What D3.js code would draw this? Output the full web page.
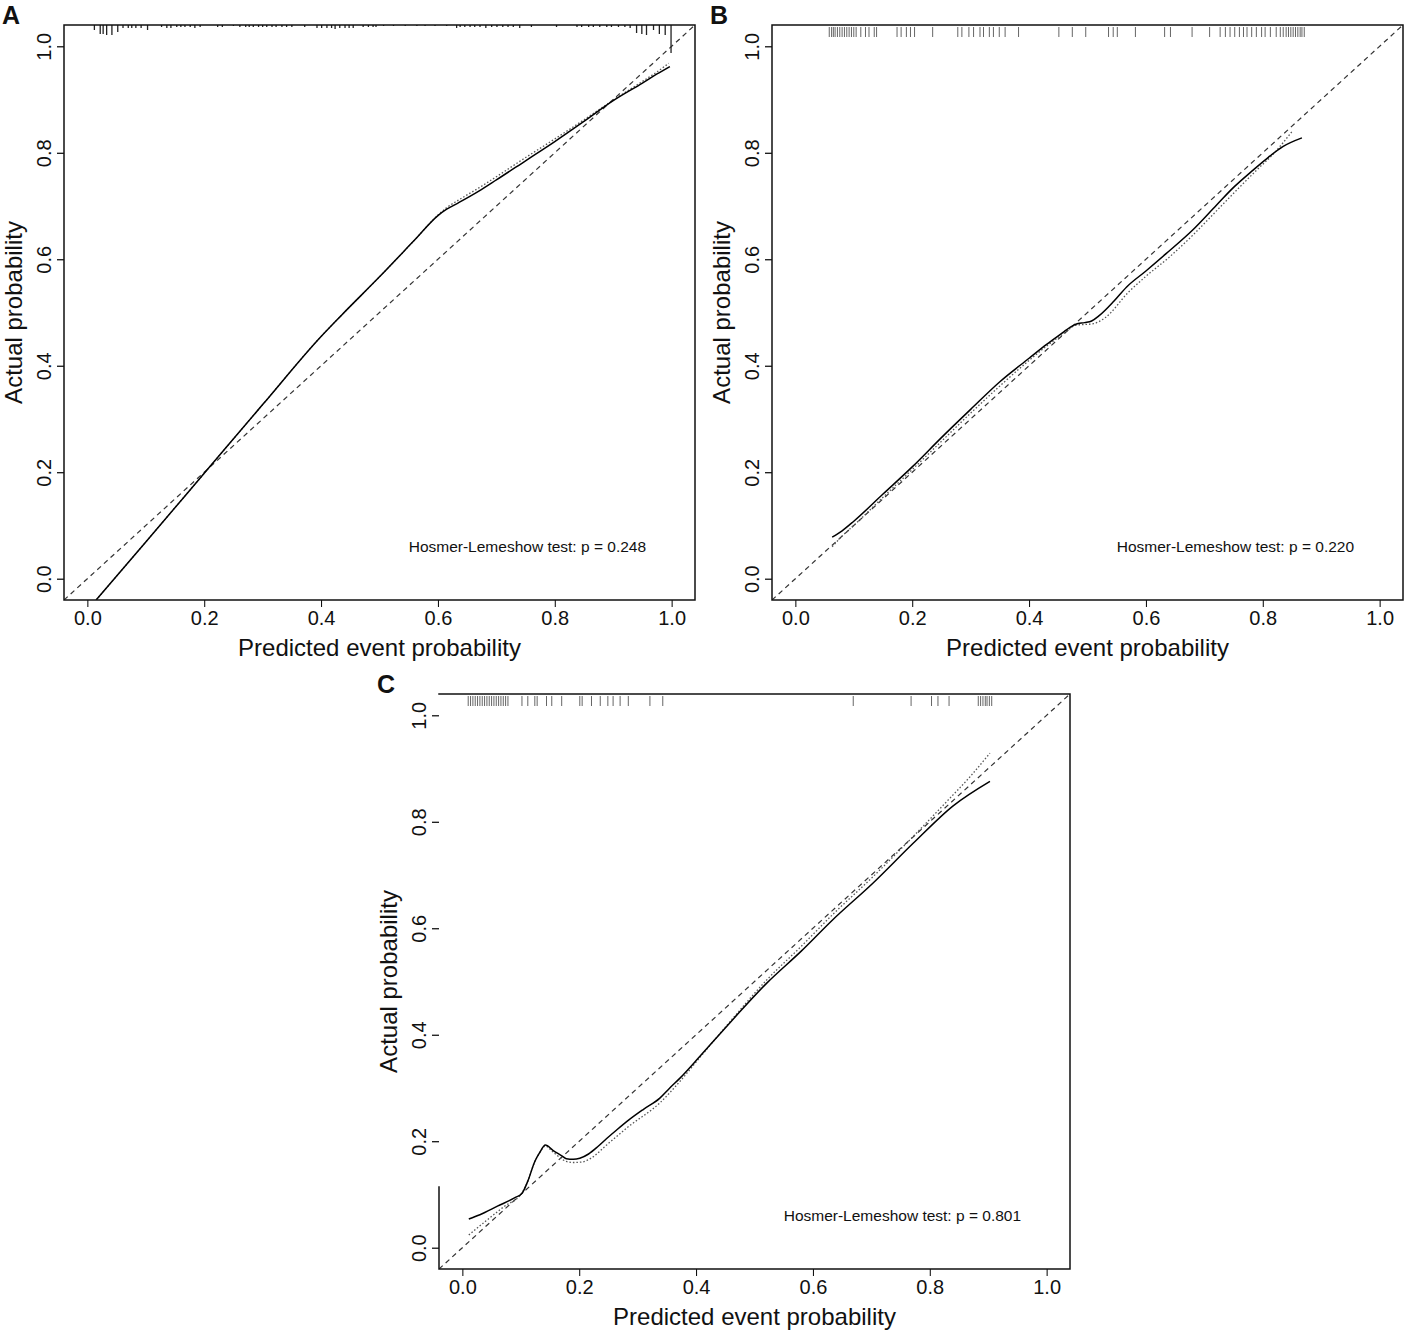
<!DOCTYPE html>
<html>
<head>
<meta charset="utf-8">
<script src="https://cdn.jsdelivr.net/npm/d3@7"></script>
<style>
  body { margin: 0; background: #fff; }
  svg text { font-family: "Liberation Sans", Arial, Helvetica, sans-serif; fill: #111; }
</style>
</head>
<body>
<svg id="chart" width="1405" height="1332"></svg>
<script>
// ---- data ----
const ticks = [0, 0.2, 0.4, 0.6, 0.8, 1.0];
const pValues = ['0.248', '0.220', '0.801'];

// panel A: solid (bias corrected) and dotted (apparent) calibration curves
const aSolid = [[0.015,-0.04],[0.10,0.069],[0.20,0.198],[0.30,0.327],[0.40,0.455],[0.435,0.495],
  [0.50,0.567],[0.56,0.636],[0.60,0.682],[0.615,0.694],[0.635,0.706],[0.67,0.728],[0.70,0.749],
  [0.75,0.785],[0.80,0.821],[0.85,0.859],[0.90,0.898],[0.95,0.931],[0.975,0.948],[0.997,0.962]];
const aDotted = [[0.015,-0.04],[0.10,0.069],[0.20,0.198],[0.30,0.327],[0.40,0.455],[0.435,0.495],
  [0.50,0.567],[0.56,0.636],[0.60,0.683],[0.615,0.697],[0.635,0.711],[0.67,0.734],[0.70,0.755],
  [0.75,0.791],[0.80,0.826],[0.85,0.862],[0.90,0.899],[0.95,0.934],[0.975,0.952],[0.995,0.968]];
// spike histogram along the top of panel A
const aSpikeX = [0.012,0.022,0.027,0.033,0.042,0.052,0.061,0.070,0.076,0.083,0.092,0.103,0.127,0.136,
  0.143,0.153,0.160,0.167,0.176,0.184,0.193,0.223,0.231,0.250,0.261,0.271,0.277,0.284,0.293,0.300,
  0.307,0.316,0.323,0.333,0.341,0.350,0.372,0.393,0.401,0.410,0.418,0.424,0.432,0.441,0.448,0.455,
  0.472,0.481,0.489,0.494,0.507,0.524,0.544,0.564,0.578,0.595,0.615,0.632,0.638,0.646,0.655,0.663,
  0.672,0.682,0.692,0.701,0.711,0.720,0.729,0.740,0.760,0.803,0.838,0.846,0.858,0.866,0.877,0.889,
  0.897,0.909,0.920,0.929,0.940,0.949,0.957,0.969,0.979,0.989,0.999];
const aSpikeN = [5,9,9,10,10,7,3,3,3,3,3,5,2,3,3,2,2,2,2,3,2,2,2,1,2,2,2,2,2,2,
  2,2,2,2,2,2,2,3,3,3,3,4,3,3,3,3,2,2,2,2,1,1,1,1,1,1,1,3,2,2,2,2,
  2,3,2,2,2,2,2,3,2,2,2,2,2,2,2,2,2,2,2,3,8,9,10,5,9,10,28];

// panel B
const bSolid = [[0.063,0.078],[0.08,0.090],[0.10,0.108],[0.15,0.159],[0.20,0.210],[0.25,0.265],
  [0.30,0.318],[0.35,0.370],[0.40,0.414],[0.43,0.440],[0.46,0.464],[0.47,0.472],[0.48,0.478],
  [0.495,0.481],[0.507,0.484],[0.52,0.494],[0.545,0.521],[0.567,0.548],[0.60,0.578],[0.635,0.611],
  [0.68,0.655],[0.721,0.702],[0.75,0.735],[0.784,0.768],[0.81,0.792],[0.835,0.812],[0.867,0.828]];
const bDotted = [[0.063,0.060],[0.08,0.080],[0.10,0.100],[0.15,0.153],[0.20,0.205],[0.25,0.258],
  [0.30,0.311],[0.35,0.362],[0.40,0.410],[0.43,0.437],[0.46,0.461],[0.48,0.476],[0.51,0.479],
  [0.53,0.490],[0.57,0.538],[0.60,0.568],[0.64,0.604],[0.68,0.645],[0.72,0.690],[0.76,0.735],
  [0.79,0.768],[0.82,0.800],[0.85,0.840]];
const bRug = [0.058,0.062,0.065,0.068,0.072,0.076,0.080,0.084,0.088,0.092,0.096,0.100,0.104,0.112,
  0.120,0.126,0.135,0.139,0.174,0.181,0.190,0.197,0.204,0.235,0.278,0.285,0.297,0.305,0.316,0.322,
  0.332,0.339,0.349,0.359,0.382,0.451,0.474,0.497,0.536,0.544,0.551,0.582,0.632,0.642,0.679,0.709,
  0.727,0.736,0.744,0.752,0.760,0.767,0.773,0.781,0.789,0.798,0.804,0.813,0.823,0.830,0.835,0.840,
  0.844,0.848,0.852,0.856,0.860,0.864,0.867,0.871];

// panel C
const cSolid = [[0.011,0.054],[0.03,0.062],[0.06,0.078],[0.09,0.094],[0.102,0.102],[0.112,0.125],
  [0.124,0.162],[0.132,0.178],[0.142,0.193],[0.155,0.183],[0.171,0.172],[0.178,0.167],[0.19,0.166],
  [0.201,0.168],[0.216,0.176],[0.232,0.190],[0.247,0.205],[0.265,0.222],[0.285,0.240],[0.31,0.260],
  [0.338,0.281],[0.355,0.300],[0.372,0.318],[0.407,0.360],[0.46,0.425],[0.521,0.497],[0.58,0.557],
  [0.634,0.616],[0.703,0.685],[0.772,0.760],[0.84,0.830],[0.903,0.876]];
const cDotted = [[0.011,0.024],[0.04,0.050],[0.071,0.077],[0.102,0.103],[0.112,0.125],[0.124,0.162],
  [0.132,0.178],[0.142,0.191],[0.155,0.180],[0.171,0.166],[0.178,0.162],[0.19,0.160],[0.205,0.161],
  [0.22,0.168],[0.247,0.193],[0.285,0.228],[0.338,0.272],[0.372,0.312],[0.407,0.358],[0.46,0.427],
  [0.521,0.503],[0.58,0.566],[0.634,0.626],[0.703,0.697],[0.772,0.773],[0.829,0.838],[0.87,0.886],
  [0.903,0.929]];
const cRug = [0.010,0.014,0.018,0.022,0.026,0.030,0.034,0.038,0.042,0.046,0.050,0.054,0.058,0.062,
  0.066,0.070,0.074,0.078,0.102,0.112,0.124,0.128,0.144,0.153,0.170,0.201,0.205,0.221,0.236,0.249,
  0.258,0.270,0.284,0.321,0.343,0.669,0.768,0.803,0.814,0.833,0.883,0.887,0.891,0.895,0.898,0.902,
  0.906];

// ---- layout ----
const W = 631, H = 575;
const panels = [
  { key: 'A', left: 64,  top: 25,  solid: aSolid, dotted: aDotted, spikes: aSpikeX, counts: aSpikeN, p: pValues[0], leftFrom: 1.04 },
  { key: 'B', left: 772, top: 25,  solid: bSolid, dotted: bDotted, rug: bRug, p: pValues[1], leftFrom: 1.04 },
  // the left edge of panel C is only visible near the bottom in the source image
  { key: 'C', left: 439, top: 694, solid: cSolid, dotted: cDotted, rug: cRug, p: pValues[2], leftFrom: 0.114 }
];

const svg = d3.select('#chart');
const x = d3.scaleLinear().domain([-0.04, 1.04]).range([0, W]);
const y = d3.scaleLinear().domain([-0.04, 1.04]).range([H, 0]);
const line = d3.line().x(d => x(d[0])).y(d => y(d[1])).curve(d3.curveMonotoneX);
const fmt = d3.format('.1f');

panels.forEach((p, i) => {
  const g = svg.append('g').attr('transform', `translate(${p.left},${p.top})`);

  g.append('clipPath').attr('id', 'clip' + i)
    .append('rect').attr('width', W).attr('height', H);

  // panel letter
  svg.append('text')
    .attr('x', p.left - 62).attr('y', p.top - 1)
    .style('font-size', '25px').style('font-weight', 'bold')
    .text(p.key);

  // axes
  g.append('g').attr('transform', `translate(0,${H})`)
    .call(d3.axisBottom(x).tickValues(ticks).tickFormat(fmt).tickSize(7).tickPadding(4))
    .call(a => a.select('.domain').remove())
    .call(a => a.selectAll('text').style('font-size', '20px').attr('fill', '#111'));

  const ya = g.append('g')
    .call(d3.axisLeft(y).tickValues(ticks).tickFormat(fmt).tickSize(7).tickPadding(4))
    .call(a => a.select('.domain').remove());
  ya.selectAll('text')
    .style('font-size', '20px').attr('fill', '#111')
    .attr('text-anchor', 'middle')
    .attr('x', null).attr('dy', null)
    .attr('transform', 'translate(-13,0) rotate(-90)');
  ya.selectAll('line').attr('stroke-width', 1.2);

  // axis titles
  g.append('text')
    .attr('x', W / 2).attr('y', H + 56)
    .attr('text-anchor', 'middle')
    .style('font-size', '24px')
    .text('Predicted event probability');
  g.append('text')
    .attr('transform', `translate(-42,${H / 2}) rotate(-90)`)
    .attr('text-anchor', 'middle')
    .style('font-size', '24px')
    .text('Actual probability');

  const plot = g.append('g').attr('clip-path', `url(#clip${i})`);

  // ideal line
  plot.append('line')
    .attr('x1', x(-0.04)).attr('y1', y(-0.04))
    .attr('x2', x(1.04)).attr('y2', y(1.04))
    .attr('stroke', '#333').attr('stroke-width', 1.2)
    .attr('stroke-dasharray', '5,4');

  // apparent (dotted) and bias corrected (solid)
  plot.append('path').datum(p.dotted)
    .attr('d', line).attr('fill', 'none')
    .attr('stroke', '#555').attr('stroke-width', 1.3)
    .attr('stroke-dasharray', '1.5,2');
  plot.append('path').datum(p.solid)
    .attr('d', line).attr('fill', 'none')
    .attr('stroke', '#000').attr('stroke-width', 1.5);

  // distribution of predictions along the top
  if (p.spikes) {
    const len = d3.scaleLinear().domain([0, 28]).range([0, 28]);
    plot.selectAll('.spike').data(p.spikes).join('line')
      .attr('class', 'spike')
      .attr('x1', d => x(d)).attr('x2', d => x(d))
      .attr('y1', 0).attr('y2', (d, k) => len(p.counts[k]))
      .attr('stroke', '#222').attr('stroke-width', 1.3);
  }
  if (p.rug) {
    plot.selectAll('.rug').data(p.rug).join('line')
      .attr('class', 'rug')
      .attr('x1', d => x(d)).attr('x2', d => x(d))
      .attr('y1', 2).attr('y2', 12)
      .attr('stroke', '#666').attr('stroke-width', 1);
  }

  // Hosmer-Lemeshow annotation
  g.append('text')
    .attr('x', x(0.55)).attr('y', y(0.06))
    .attr('dy', '0.35em')
    .style('font-size', '15.5px')
    .text(`Hosmer-Lemeshow test: p = ${p.p}`);

  // frame: top, right, bottom, then the visible part of the left edge
  const frame = d3.path();
  frame.moveTo(0, 0); frame.lineTo(W, 0); frame.lineTo(W, H); frame.lineTo(0, H);
  frame.lineTo(0, y(p.leftFrom));
  g.append('path')
    .attr('d', frame.toString())
    .attr('fill', 'none').attr('stroke', '#111').attr('stroke-width', 1.5)
    .attr('stroke-linecap', 'square');
});
</script>
</body>
</html>
